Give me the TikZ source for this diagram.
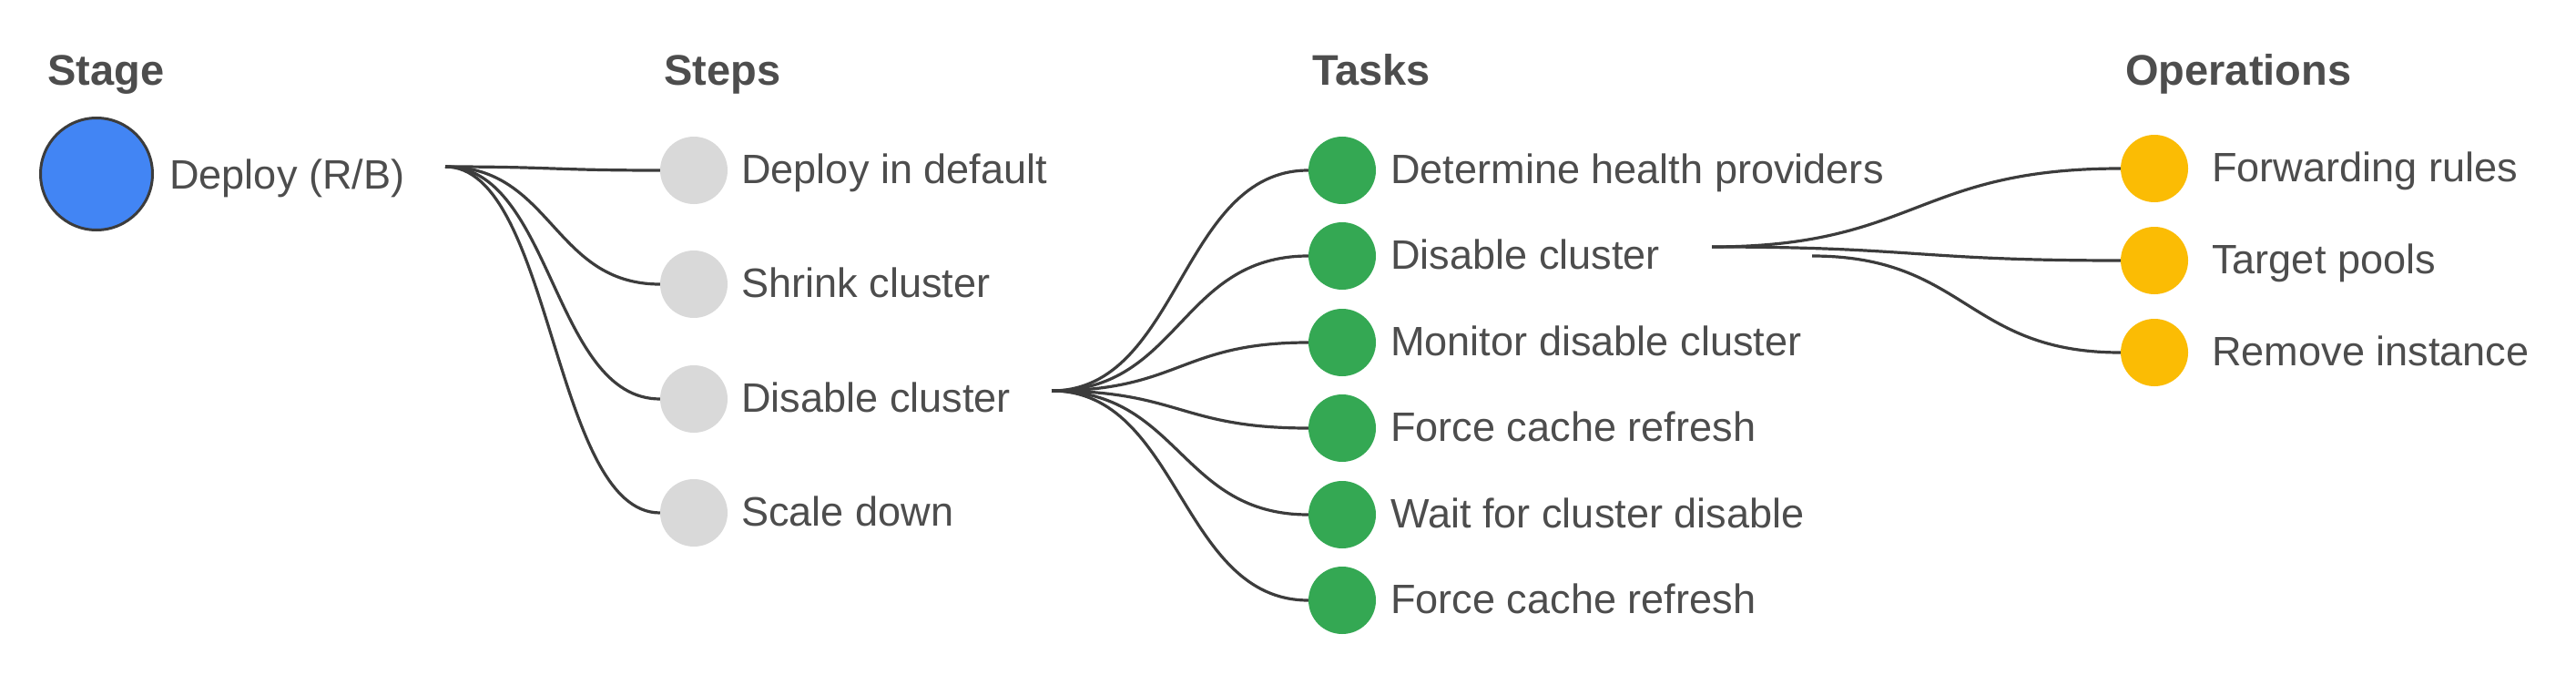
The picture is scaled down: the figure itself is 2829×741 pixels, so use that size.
\documentclass[tikz,border=0pt]{standalone}
\usepackage{fontspec}
\setmainfont{Liberation Sans}
\usetikzlibrary{calc}
\definecolor{txt}{HTML}{4D4D4D}
\definecolor{ln}{HTML}{3C3C3C}
\definecolor{gblue}{HTML}{4285F4}
\definecolor{ggreen}{HTML}{34A853}
\definecolor{gyellow}{HTML}{FBBC04}
\definecolor{ggray}{HTML}{D9D9D9}
\newcommand\linkto[2]{\draw[conn] let \p1=(#1), \p2=(#2) in (\p1) .. controls ({0.5*\x1+0.5*\x2},\y1) and ({0.5*\x1+0.5*\x2},\y2) .. (\p2);}
\begin{document}
\begin{tikzpicture}[x=1pt,y=-1pt,
  dot/.style={circle,inner sep=0pt,minimum size=74pt},
  stepdot/.style={dot,fill=ggray},
  taskdot/.style={dot,fill=ggreen},
  opdot/.style={dot,fill=gyellow},
  stagedot/.style={circle,inner sep=0pt,minimum size=123pt,fill=gblue,draw=ln,line width=3pt},
  lbl/.style={anchor=base west,inner sep=0pt,text=txt,font=\fontsize{45.1}{50}\selectfont},
  head/.style={anchor=base west,inner sep=0pt,text=txt,font=\fontsize{47}{52}\selectfont\bfseries},
  conn/.style={draw=ln,line width=3.2pt}]
\fill[white] (0,0) rectangle (2829,741);
\useasboundingbox (0,0) rectangle (2829,741);
% headings
\node[head] (h1) at (52,94) {Stage};
\node[head] (h2) at (729,94) {Steps};
\node[head] (h3) at (1441,94) {Tasks};
\node[head] (h4) at (2334,94) {Operations};
% stage
\node[stagedot] (stage) at (106,191) {};
\node[lbl] (staget) at (186,207) {Deploy (R/B)};
\coordinate (stageout) at (489,183);
% steps
\node[stepdot] (s1) at (762,187) {};
\node[stepdot] (s2) at (762,312) {};
\node[stepdot] (s3) at (762,438) {};
\node[stepdot] (s4) at (762,563) {};
\node[lbl] (s1t) at (814,201.5) {Deploy in default};
\node[lbl] (s2t) at (814,326.5) {Shrink cluster};
\node[lbl] (s3t) at (814,452.5) {Disable cluster};
\node[lbl] (s4t) at (814,577.5) {Scale down};
\coordinate (stepout) at (1155,429);
% tasks
\node[taskdot] (t1) at (1474,187) {};
\node[taskdot] (t2) at (1474,281) {};
\node[taskdot] (t3) at (1474,376) {};
\node[taskdot] (t4) at (1474,470) {};
\node[taskdot] (t5) at (1474,565) {};
\node[taskdot] (t6) at (1474,659) {};
\node[lbl] (t1t) at (1527,201.5) {Determine health providers};
\node[lbl] (t2t) at (1527,295.5) {Disable cluster};
\node[lbl] (t3t) at (1527,390.5) {Monitor disable cluster};
\node[lbl] (t4t) at (1527,484.5) {Force cache refresh};
\node[lbl] (t5t) at (1527,579.5) {Wait for cluster disable};
\node[lbl] (t6t) at (1527,673.5) {Force cache refresh};
\coordinate (taskout) at (1880,271);
\coordinate (taskout2) at (1990,281);
% operations
\node[opdot] (o1) at (2366,185) {};
\node[opdot] (o2) at (2366,286) {};
\node[opdot] (o3) at (2366,387) {};
\node[lbl] (o1t) at (2429,199.5) {Forwarding rules};
\node[lbl] (o2t) at (2429,300.5) {Target pools};
\node[lbl] (o3t) at (2429,401.5) {Remove instance};
% connectors
\linkto{stageout}{s1.west}
\linkto{stageout}{s2.west}
\linkto{stageout}{s3.west}
\linkto{stageout}{s4.west}
\linkto{stepout}{t1.west}
\linkto{stepout}{t2.west}
\linkto{stepout}{t3.west}
\linkto{stepout}{t4.west}
\linkto{stepout}{t5.west}
\linkto{stepout}{t6.west}
\linkto{taskout}{o1.west}
\linkto{taskout}{o2.west}
\linkto{taskout2}{o3.west}
\end{tikzpicture}
\end{document}
